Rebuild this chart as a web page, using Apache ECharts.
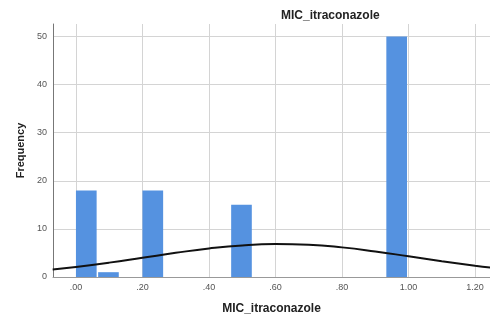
<!DOCTYPE html>
<html>
<head>
<meta charset="utf-8">
<script src="https://cdn.jsdelivr.net/npm/echarts@6/dist/echarts.min.js"></script>
<style>html,body{margin:0;padding:0;background:#fff}#c{width:490px;height:320px}</style>
</head>
<body>
<div id="c"></div>
<script>
// Histogram bins (left/right edges) and counts
const binLeft  = [0.0, 0.0667, 0.2, 0.4667, 0.9333];
const binRight = [0.0667, 0.1333, 0.2667, 0.5333, 1.0];
const counts   = [18, 1, 18, 15, 50];
// Normal curve points
const curveX = [-0.07, 0.0, 0.1, 0.2, 0.3, 0.4, 0.5, 0.6, 0.7, 0.8, 0.9, 1.0, 1.1, 1.2, 1.25];
const curveY = [1.58, 2.10, 2.99, 4.00, 5.02, 5.93, 6.57, 6.84, 6.70, 6.16, 5.31, 4.31, 3.29, 2.35, 1.94];
// Axis ticks
const xTicks = [0, 0.2, 0.4, 0.6, 0.8, 1.0, 1.2];
const xTickLabels = ['.00', '.20', '.40', '.60', '.80', '1.00', '1.20'];
const yTicks = [0, 10, 20, 30, 40, 50];
const title = 'MIC_itraconazole';
const xName = 'MIC_itraconazole';
const yName = 'Frequency';

const barData = binLeft.map((l, i) => [l, binRight[i], counts[i]]);
const lineData = curveX.map((x, i) => [x, curveY[i]]);

const chart = echarts.init(document.getElementById('c'), null, {renderer: 'canvas'});
chart.setOption({
  animation: false,
  backgroundColor: '#fff',
  title: {
    text: title, left: 276, top: 5,
    textStyle: {fontFamily: 'Liberation Sans', fontSize: 12, fontWeight: 'bold', color: '#222'}
  },
  grid: {left: 53, right: 0, top: 24, bottom: 35, containLabel: false},
  xAxis: {
    type: 'value', min: -0.069, max: 1.245,
    name: xName, nameLocation: 'middle', nameGap: 26,
    nameTextStyle: {fontFamily: 'Liberation Sans', fontSize: 12, fontWeight: 'bold', color: '#222'},
    axisLine: {show: true, onZero: false, lineStyle: {color: '#999', width: 1}},
    axisTick: {show: false, customValues: xTicks},
    splitLine: {show: true, lineStyle: {color: '#d4d4d4', width: 1}},
    axisLabel: {
      customValues: xTicks, margin: 6,
      fontFamily: 'Liberation Sans', fontSize: 9, color: '#555',
      formatter: v => { const i = xTicks.findIndex(t => Math.abs(t - v) < 1e-6); return i >= 0 ? xTickLabels[i] : ''; }
    }
  },
  yAxis: {
    type: 'value', min: 0, max: 52.6, interval: 10,
    name: yName, nameLocation: 'middle', nameGap: 23, nameRotate: 90,
    nameTextStyle: {fontFamily: 'Liberation Sans', fontSize: 11, fontWeight: 'bold', color: '#222'},
    axisLine: {show: true, onZero: false, lineStyle: {color: '#777', width: 1}},
    axisTick: {show: false},
    splitLine: {show: true, showMaxLine: false, lineStyle: {color: '#d4d4d4', width: 1}},
    axisLabel: {
      showMaxLabel: false, margin: 6,
      fontFamily: 'Liberation Sans', fontSize: 9, color: '#555',
      formatter: v => (yTicks.indexOf(v) >= 0 ? String(v) : '')
    }
  },
  series: [
    {
      type: 'custom',
      data: barData,
      encode: {x: [0, 1], y: 2},
      renderItem: function (params, api) {
        const p0 = api.coord([api.value(0), api.value(2)]);
        const p1 = api.coord([api.value(1), 0]);
        return {
          type: 'rect',
          shape: {x: p0[0], y: p0[1], width: p1[0] - p0[0] - 1.5, height: p1[1] - p0[1]},
          style: {fill: '#5592e0'}
        };
      },
      z: 2
    },
    {
      type: 'line', data: lineData, smooth: true, showSymbol: false,
      lineStyle: {color: '#111', width: 2}, z: 3
    }
  ]
});
</script>
</body>
</html>
